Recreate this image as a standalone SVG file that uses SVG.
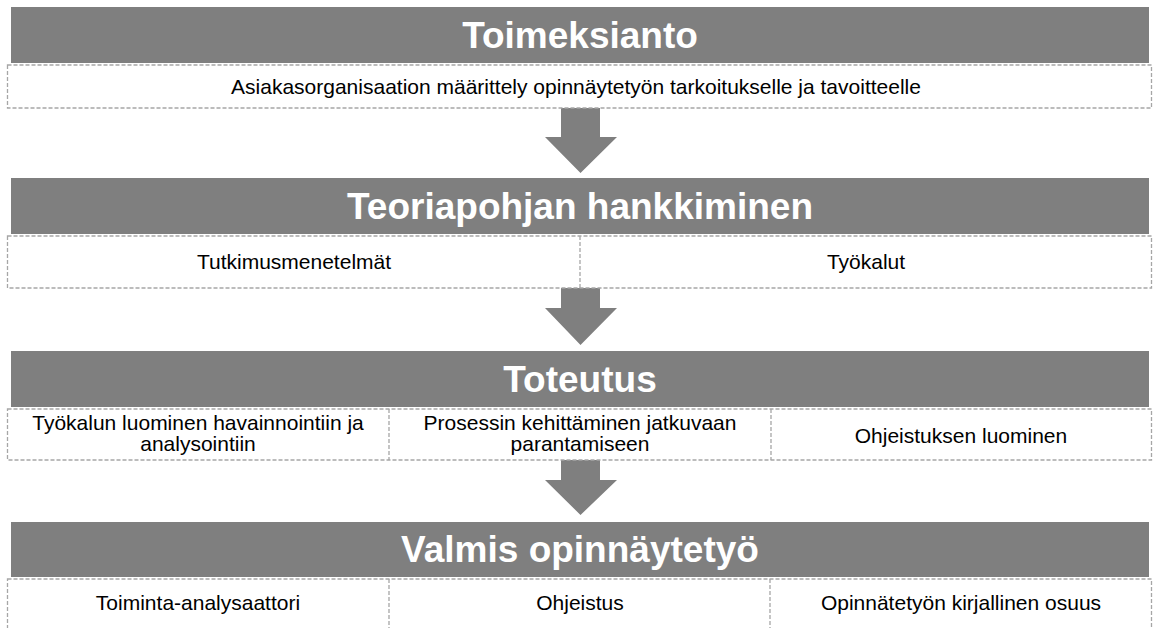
<svg xmlns="http://www.w3.org/2000/svg" width="1153" height="628" viewBox="0 0 1153 628">
  <style>
    .bar { fill: #7f7f7f; }
    .cell { fill: #ffffff; stroke: #a6a6a6; stroke-width: 1.3; stroke-dasharray: 4 2; }
    .div { stroke: #a6a6a6; stroke-width: 1.3; stroke-dasharray: 4 2; fill: none; }
    .title { font-family: "Liberation Sans", Arial, sans-serif; font-weight: bold; font-size: 37px; fill: #ffffff; text-anchor: middle; }
    .lbl { font-family: "Liberation Sans", Arial, sans-serif; font-size: 21px; fill: #000000; text-anchor: middle; }
    .arrow { fill: #7f7f7f; }
  </style>

  <!-- Connectors: block arrows between phases -->
  <g id="connectors">
    <polygon class="arrow" points="561,108 600,108 600,137 617,137 580.5,173 545,137 561,137"/>
    <polygon class="arrow" points="561,288 600,288 600,308 617,308 580.5,345 545,308 561,308"/>
    <polygon class="arrow" points="561,460 600,460 600,480 617,480 580.5,515 545,480 561,480"/>
  </g>

  <!-- Phase 1 -->
  <g id="toimeksianto">
    <rect class="bar" x="11" y="7" width="1138" height="56"/>
    <text class="title" x="580" y="48">Toimeksianto</text>
    <rect class="cell" x="7.5" y="65" width="1144" height="43"/>
    <text class="lbl" x="576" y="94">Asiakasorganisaation määrittely opinnäytetyön tarkoitukselle ja tavoitteelle</text>
  </g>

  <!-- Phase 2 -->
  <g id="teoriapohja">
    <rect class="bar" x="11" y="178" width="1138" height="56"/>
    <text class="title" x="580" y="219">Teoriapohjan hankkiminen</text>
    <rect class="cell" x="7.5" y="236" width="1144" height="52"/>
    <line class="div" x1="580" y1="236" x2="580" y2="288"/>
    <text class="lbl" x="294" y="269">Tutkimusmenetelmät</text>
    <text class="lbl" x="866" y="269">Työkalut</text>
  </g>

  <!-- Phase 3 -->
  <g id="toteutus">
    <rect class="bar" x="11" y="351" width="1138" height="56"/>
    <text class="title" x="580" y="392">Toteutus</text>
    <rect class="cell" x="7.5" y="409" width="1144" height="51"/>
    <line class="div" x1="389" y1="409" x2="389" y2="460"/>
    <line class="div" x1="771" y1="409" x2="771" y2="460"/>
    <text class="lbl" x="198" y="430">Työkalun luominen havainnointiin ja</text>
    <text class="lbl" x="198" y="451">analysointiin</text>
    <text class="lbl" x="580" y="430">Prosessin kehittäminen jatkuvaan</text>
    <text class="lbl" x="580" y="451">parantamiseen</text>
    <text class="lbl" x="961" y="443">Ohjeistuksen luominen</text>
  </g>

  <!-- Phase 4 -->
  <g id="valmis">
    <rect class="bar" x="11" y="522" width="1138" height="55"/>
    <text class="title" x="580" y="562">Valmis opinnäytetyö</text>
    <rect class="cell" x="7.5" y="579" width="1144" height="60"/>
    <line class="div" x1="389" y1="579" x2="389" y2="628"/>
    <line class="div" x1="770" y1="579" x2="770" y2="628"/>
    <text class="lbl" x="198" y="610">Toiminta-analysaattori</text>
    <text class="lbl" x="580" y="610">Ohjeistus</text>
    <text class="lbl" x="961" y="610">Opinnätetyön kirjallinen osuus</text>
  </g>
</svg>
